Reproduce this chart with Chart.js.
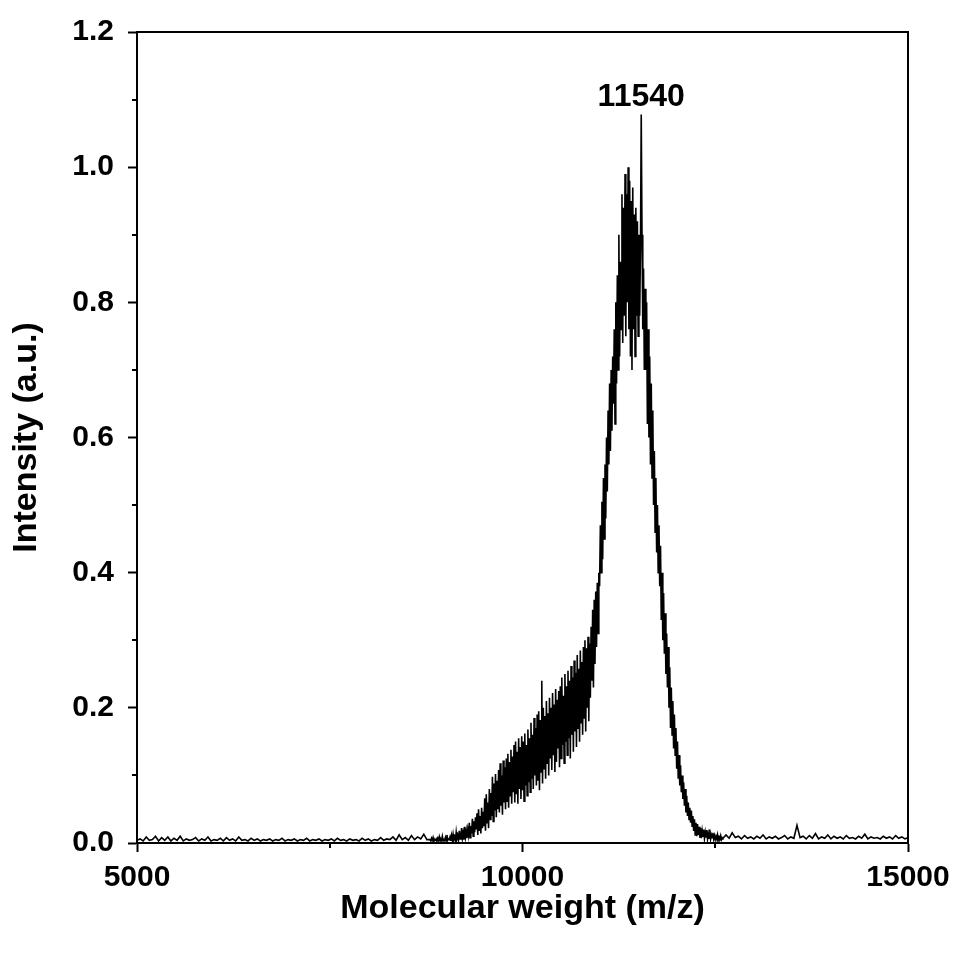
<!DOCTYPE html>
<html>
<head>
<meta charset="utf-8">
<script src="https://cdn.jsdelivr.net/npm/chart.js@4"></script>
<style>
  body { margin: 0; background: #fff; }
  #wrap { width: 956px; height: 955px; }
</style>
</head>
<body>
<div id="wrap"><canvas id="spectrum"></canvas></div>
<script>
// MALDI spectrum, intensities
// baseline left of the peak, 5000..8760 every 40
const leftStart = 5000, leftStep = 40;
const leftBase = [
  .004,.006,.003,.009,.004,.005,.010,.003,.008,.004,
  .009,.003,.007,.004,.010,.003,.006,.004,.005,.008,
  .003,.006,.004,.009,.003,.005,.004,.007,.003,.008,
  .004,.006,.003,.009,.004,.005,.003,.007,.004,.006,
  .003,.005,.004,.006,.003,.005,.004,.007,.003,.005,
  .004,.006,.003,.005,.004,.007,.003,.005,.004,.006,
  .003,.005,.004,.006,.003,.007,.004,.005,.003,.006,
  .004,.005,.003,.007,.004,.006,.003,.005,.004,.008,
  .004,.006,.005,.009,.004,.012,.005,.008,.004,.011,
  .005,.009,.006,.013,.005
];

// the peak, 8800..12600 every 10 (one row per 100)
const peakStart = 8800, peakStep = 10;
const peak = [
  .005,.003,.007,.004,.008,.003,.005,.004,.006,.003,
  .007,.004,.009,.003,.006,.004,.010,.003,.005,.004,
  .008,.003,.012,.004,.006,.005,.009,.003,.011,.004,
  .013,.005,.009,.004,.016,.006,.011,.005,.018,.006,
  .010,.022,.007,.015,.005,.024,.009,.018,.007,.020,
  .012,.030,.008,.025,.014,.036,.010,.032,.016,.038,
  .020,.044,.012,.050,.018,.040,.014,.052,.022,.046,
  .025,.066,.018,.072,.030,.060,.022,.080,.035,.074,
  .040,.098,.032,.088,.048,.102,.038,.092,.050,.108,
  .045,.118,.055,.100,.042,.122,.060,.112,.050,.125,
  .062,.132,.052,.120,.070,.138,.058,.128,.075,.145,
  .060,.150,.072,.135,.058,.155,.080,.142,.065,.158,
  .078,.150,.062,.162,.085,.145,.070,.168,.090,.155,
  .075,.178,.095,.160,.080,.185,.100,.170,.085,.190,
  .092,.195,.078,.182,.105,.240,.088,.200,.110,.188,
  .095,.210,.118,.192,.100,.215,.125,.200,.108,.222,
  .130,.205,.105,.228,.120,.212,.140,.225,.112,.232,
  .125,.245,.145,.218,.118,.250,.150,.232,.130,.255,
  .155,.240,.125,.262,.160,.245,.135,.270,.165,.252,
  .142,.278,.170,.258,.150,.285,.178,.268,.160,.290,
  .185,.300,.165,.288,.200,.305,.180,.295,.215,.320,
  .240,.345,.230,.360,.265,.372,.290,.385,.310,.400,
  .380,.470,.400,.505,.420,.540,.450,.560,.480,.600,
  .520,.640,.560,.680,.580,.700,.610,.720,.650,.760,
  .620,.800,.680,.840,.700,.900,.720,.860,.760,.960,
  .740,.940,.780,.990,.750,.960,.800,1.000,.760,.980,
  .720,.950,.700,.970,.760,.930,.720,.940,.780,.920,
  .750,.900,.780,.880,1.078,.900,.760,.850,.700,.820,
  .700,.800,.620,.760,.600,.720,.560,.680,.540,.640,
  .500,.580,.460,.540,.430,.500,.400,.470,.380,.440,
  .330,.400,.300,.370,.280,.340,.250,.310,.230,.290,
  .200,.260,.170,.230,.160,.210,.140,.190,.130,.170,
  .110,.150,.095,.130,.085,.115,.075,.100,.065,.090,
  .055,.080,.045,.070,.040,.060,.035,.052,.030,.048,
  .025,.040,.018,.035,.012,.030,.010,.028,.012,.024,
  .008,.022,.007,.018,.009,.020,.007,.016,.008,.019,
  .006,.014,.007,.020,.006,.012,.008,.015,.006,.011,
  .005,.010,.006,.012,.005,.009,.007,.011,.005,.008,
  .007
];

// baseline right of the peak, 12640..14980 every 40
const rightStart = 12640, rightStep = 40;
const rightBase = [
  .012,.007,.015,.008,.010,.006,.011,.007,.009,.006,
  .010,.007,.012,.006,.009,.007,.010,.006,.008,.011,
  .006,.009,.007,.026,.008,.010,.006,.011,.007,.014,
  .006,.009,.007,.012,.006,.010,.007,.009,.006,.011,
  .007,.008,.006,.010,.007,.013,.006,.009,.007,.008,
  .006,.010,.007,.009,.006,.011,.007,.009,.006,.008
];

const xTicks = [5000, 10000, 15000];
const xMinor = [7500, 12500];
const yTicks = [0, 0.2, 0.4, 0.6, 0.8, 1.0, 1.2];
const yMinor = [0.1, 0.3, 0.5, 0.7, 0.9, 1.1];
const peakLabel = '11540';
const peakLabelX = 11540;
const peakLabelY = 1.078;

function seg(start, step, vals) {
  return vals.map((v, i) => ({ x: start + i * step, y: v }));
}
const points = seg(leftStart, leftStep, leftBase)
  .concat(seg(peakStart, peakStep, peak))
  .concat(seg(rightStart, rightStep, rightBase));

const FONT = '"Liberation Sans", Arial, sans-serif';

const framePlugin = {
  id: 'frame',
  afterDraw(chart) {
    const ctx = chart.ctx;
    const a = chart.chartArea;
    const xs = chart.scales.x, ys = chart.scales.y;
    ctx.save();
    ctx.strokeStyle = '#000';
    ctx.lineWidth = 2;
    ctx.beginPath();
    ctx.moveTo(a.left, a.top);
    ctx.lineTo(a.right, a.top);
    ctx.lineTo(a.right, a.bottom);
    ctx.stroke();
    // minor ticks
    ctx.beginPath();
    xMinor.forEach(v => {
      const px = Math.round(xs.getPixelForValue(v));
      ctx.moveTo(px, a.bottom);
      ctx.lineTo(px, a.bottom + 5);
    });
    yMinor.forEach(v => {
      const py = Math.round(ys.getPixelForValue(v));
      ctx.moveTo(a.left, py);
      ctx.lineTo(a.left - 5, py);
    });
    ctx.stroke();
    // peak label
    ctx.fillStyle = '#000';
    ctx.font = 'bold 32px ' + FONT;
    ctx.textAlign = 'center';
    ctx.textBaseline = 'alphabetic';
    ctx.fillText(peakLabel, xs.getPixelForValue(peakLabelX), ys.getPixelForValue(peakLabelY) - 8);
    ctx.restore();
  }
};

new Chart(document.getElementById('spectrum'), {
  type: 'line',
  data: {
    datasets: [{
      data: points,
      borderColor: '#000',
      borderWidth: 1.6,
      pointRadius: 0,
      tension: 0,
      fill: false
    }]
  },
  options: {
    responsive: true,
    maintainAspectRatio: false,
    animation: false,
    events: [],
    layout: { padding: { left: 0, right: 48, top: 32, bottom: 0 } },
    plugins: { legend: { display: false }, tooltip: { enabled: false } },
    scales: {
      x: {
        type: 'linear',
        min: 5000,
        max: 15000,
        afterFit: s => {
          s.height = 112;
          s.paddingLeft = 0;
          s.paddingRight = 0;
        },
        afterBuildTicks: s => { s.ticks = xTicks.map(v => ({ value: v })); },
        border: { color: '#000', width: 2 },
        grid: { drawOnChartArea: false, tickLength: 9, tickWidth: 2, tickColor: '#000' },
        ticks: {
          color: '#000',
          padding: 8,
          maxRotation: 0,
          font: { family: FONT, size: 30, weight: 'bold' },
          callback: v => String(v)
        },
        title: {
          display: true,
          text: 'Molecular weight (m/z)',
          color: '#000',
          padding: { top: 0, bottom: 26 },
          font: { family: FONT, size: 34, weight: 'bold' }
        }
      },
      y: {
        min: 0,
        max: 1.2,
        afterFit: s => {
          s.width = 137;
          s.paddingTop = 0;
          s.paddingBottom = 0;
        },
        afterBuildTicks: s => { s.ticks = yTicks.map(v => ({ value: v })); },
        border: { color: '#000', width: 2 },
        grid: { drawOnChartArea: false, tickLength: 9, tickWidth: 2, tickColor: '#000' },
        ticks: {
          color: '#000',
          padding: 14,
          font: { family: FONT, size: 30, weight: 'bold' },
          callback: v => Number(v).toFixed(1)
        },
        title: {
          display: true,
          text: 'Intensity (a.u.)',
          color: '#000',
          padding: { top: 6, bottom: 0 },
          font: { family: FONT, size: 34, weight: 'bold' }
        }
      }
    }
  },
  plugins: [framePlugin]
});
</script>
</body>
</html>
